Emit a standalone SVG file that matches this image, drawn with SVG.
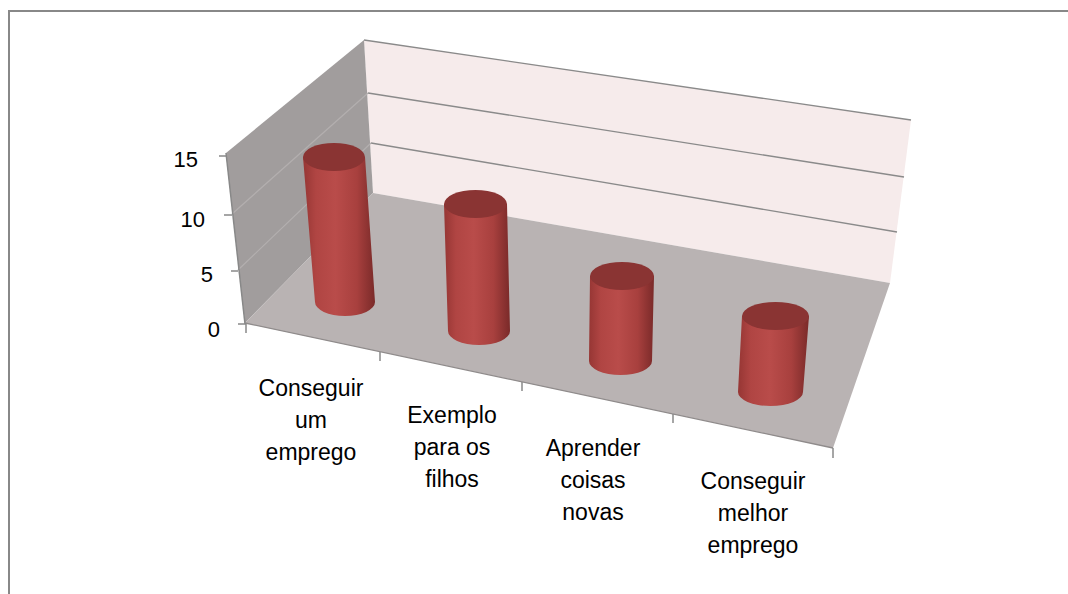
<svg xmlns="http://www.w3.org/2000/svg" width="1068" height="594" viewBox="0 0 1068 594">
<style>
  .lbl { font-family: "Liberation Sans", Arial, sans-serif; font-size: 23px; fill: #000; text-anchor: middle; }
  .ax { font-family: "Liberation Sans", Arial, sans-serif; font-size: 22px; fill: #000; text-anchor: end; }
  .grid { stroke: #8a8a8a; stroke-width: 1.3; fill: none; }
  .sgrid { stroke: #b3afaf; stroke-width: 1.2; fill: none; }
  .tick { stroke: #888; stroke-width: 1.5; fill: none; }
  .top { fill: #8a3433; }
</style>
<defs>
  <linearGradient id="cyl" x1="0" y1="0" x2="1" y2="0">
    <stop offset="0" stop-color="#963634"/>
    <stop offset="0.18" stop-color="#b04543"/>
    <stop offset="0.45" stop-color="#b94c4a"/>
    <stop offset="0.75" stop-color="#a8403e"/>
    <stop offset="1" stop-color="#7a2a29"/>
  </linearGradient>
</defs>
<rect x="0" y="0" width="1068" height="594" fill="#ffffff"/>
<g id="frame">
  <path d="M9,594 L9,11 L1068,11" stroke="#888888" stroke-width="2" fill="none"/>
</g>
<g id="walls">
  <polygon points="364,40 911,120 890,283 373,193" fill="#f6ebeb"/>
  <polygon points="226,153 364,40 373,193 245,323" fill="#a19d9d"/>
  <polygon points="245,323 373,193 890,283 833,448" fill="#b9b3b3"/>
  <path class="grid" d="M364,40 L911,120"/>
  <path class="grid" d="M368,93 L904,177"/>
  <path class="grid" d="M371,143 L897,232"/>
  <path class="sgrid" d="M232,214 L368,93"/>
  <path class="sgrid" d="M238,270 L371,143"/>
  <path d="M245,323 L833,448" stroke="#8f8b8b" stroke-width="1.3" fill="none"/>
</g>
<g id="axes">
  <path class="tick" d="M226,153 L245,324"/>
  <path class="tick" d="M219,156 L226,156"/>
  <path class="tick" d="M224,215 L232,215"/>
  <path class="tick" d="M231,271 L238,271"/>
  <path class="tick" d="M238,324 L246,324"/>
  <path class="tick" d="M246,324 L246,333"/>
  <path class="tick" d="M380,352 L380,361"/>
  <path class="tick" d="M522,382 L522,391"/>
  <path class="tick" d="M673,414 L673,423"/>
  <path class="tick" d="M833,448 L833,458"/>
  <text class="ax" x="198" y="167">15</text>
  <text class="ax" x="205" y="227">10</text>
  <text class="ax" x="213" y="282">5</text>
  <text class="ax" x="220" y="337">0</text>
</g>
<g id="bar1">
  <path d="M303,157 L315,302 A30,14 0 0 0 375,302 L365,157 Z" fill="url(#cyl)"/>
  <ellipse class="top" cx="334" cy="157" rx="31" ry="14"/>
</g>
<g id="bar2">
  <path d="M444,204 L448,331 A31,14 0 0 0 510,331 L507,204 Z" fill="url(#cyl)"/>
  <ellipse class="top" cx="475.5" cy="204" rx="31.5" ry="14"/>
</g>
<g id="bar3">
  <path d="M590,276 L589,361 A31.5,14 0 0 0 652,361 L654,276 Z" fill="url(#cyl)"/>
  <ellipse class="top" cx="622" cy="276" rx="32" ry="14"/>
</g>
<g id="bar4">
  <path d="M742,316 L738,392 A32.5,14 0 0 0 803,392 L809,316 Z" fill="url(#cyl)"/>
  <ellipse class="top" cx="775.5" cy="316" rx="33.5" ry="14"/>
</g>
<g id="labels">
  <text class="lbl" x="311" y="396">Conseguir</text>
  <text class="lbl" x="311" y="428">um</text>
  <text class="lbl" x="311" y="460">emprego</text>
  <text class="lbl" x="452" y="423">Exemplo</text>
  <text class="lbl" x="452" y="455">para os</text>
  <text class="lbl" x="452" y="487">filhos</text>
  <text class="lbl" x="593" y="456">Aprender</text>
  <text class="lbl" x="593" y="488">coisas</text>
  <text class="lbl" x="593" y="520">novas</text>
  <text class="lbl" x="753" y="489">Conseguir</text>
  <text class="lbl" x="753" y="521">melhor</text>
  <text class="lbl" x="753" y="553">emprego</text>
</g>
</svg>
